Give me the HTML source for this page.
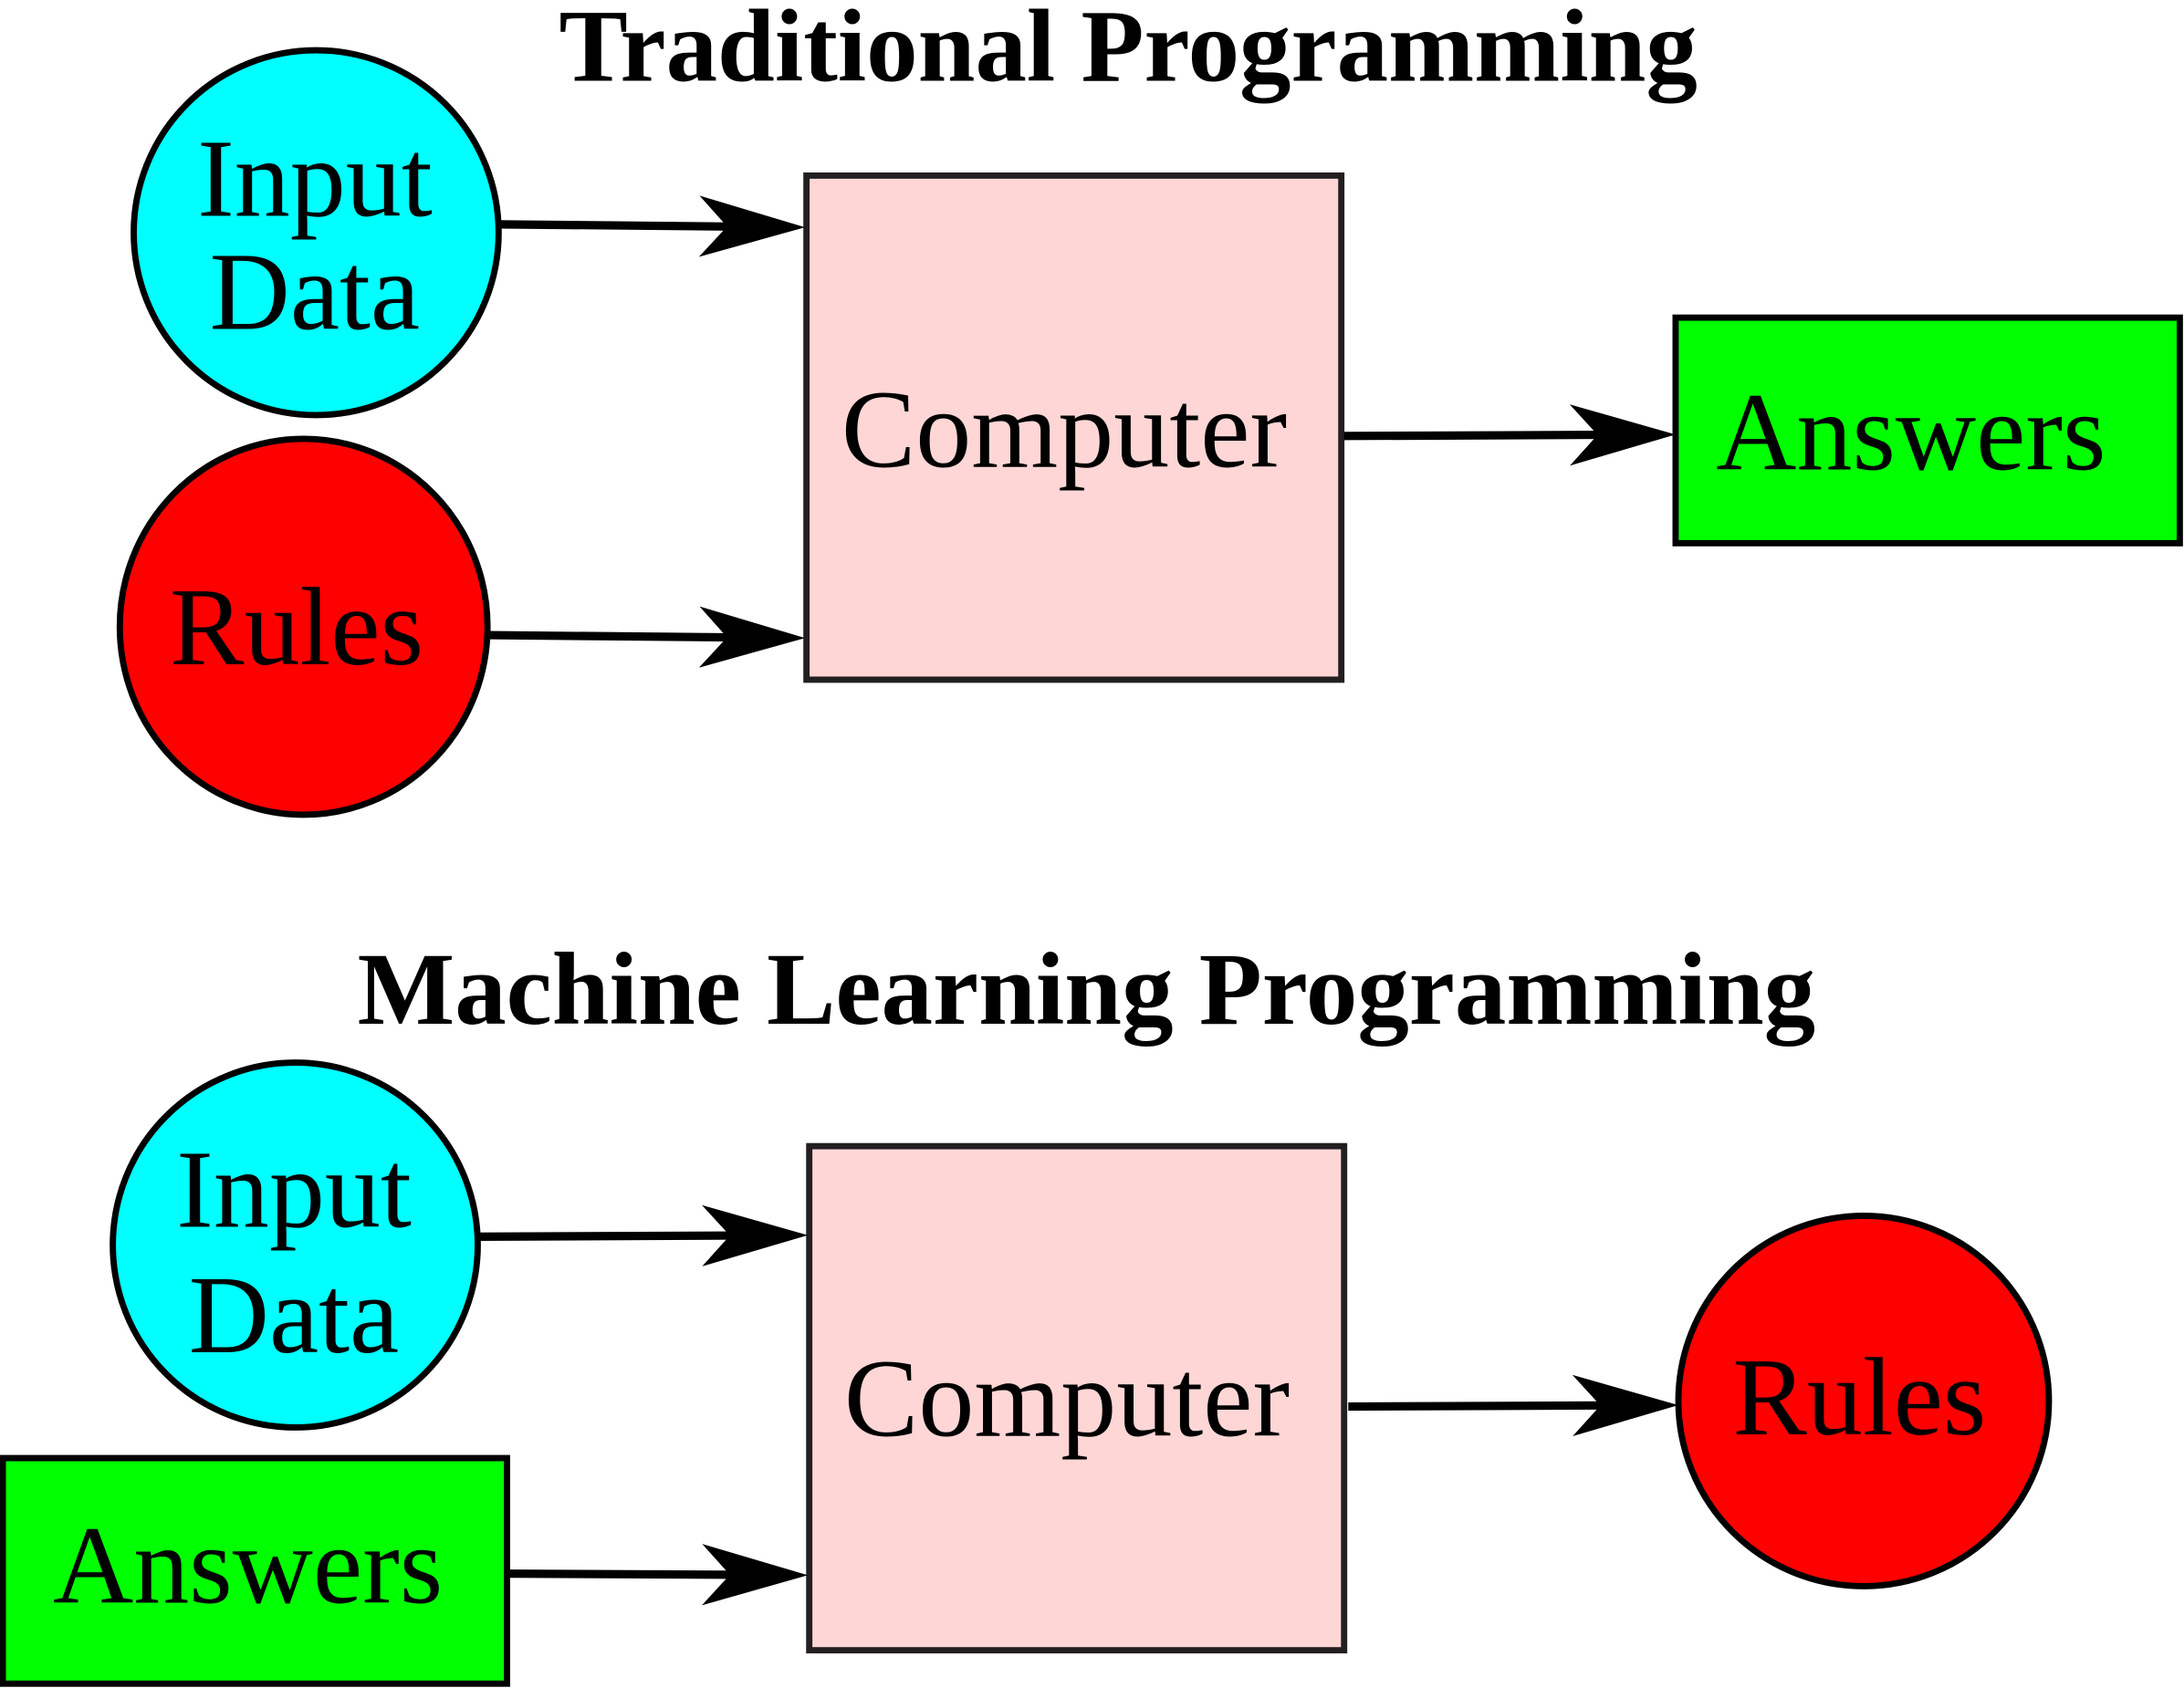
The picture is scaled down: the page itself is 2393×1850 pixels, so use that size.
<!DOCTYPE html>
<html><head><meta charset="utf-8"><style>html,body{margin:0;padding:0;background:#fff}svg{display:block}</style></head>
<body>
<svg width="2393" height="1850" viewBox="0 0 1568 1212" xmlns="http://www.w3.org/2000/svg" font-family="Liberation Serif, serif">
<defs>
<marker id="a" markerUnits="userSpaceOnUse" markerWidth="80" markerHeight="50" refX="64" refY="22" orient="auto">
<path d="M76,22 L0,0 L20,22 L0,44 Z" fill="#000"/>
</marker>
</defs>
<text x="810" y="58" font-size="74" font-weight="bold" text-anchor="middle">Traditional Programming</text>
<text x="780" y="735" font-size="74" font-weight="bold" text-anchor="middle">Machine Learning Programming</text>
<g stroke="#000" stroke-width="4.5">
<circle cx="227" cy="167" r="131" fill="#00ffff"/>
<ellipse cx="218" cy="450" rx="132" ry="135" fill="#ff0000"/>
<rect x="579" y="126" width="384" height="362" fill="#ffd6d6" stroke="#231f20"/>
<rect x="1203" y="228" width="362" height="162" fill="#00ff00"/>
<circle cx="212" cy="894" r="131" fill="#00ffff"/>
<rect x="2" y="1047" width="362" height="162" fill="#00ff00"/>
<rect x="581" y="823" width="384" height="362" fill="#ffd6d6" stroke="#231f20"/>
<circle cx="1338" cy="1006" r="133" fill="#ff0000"/>
</g>
<g stroke="#000" stroke-width="6" fill="none" marker-end="url(#a)">
<line x1="357" y1="161" x2="566" y2="163"/>
<line x1="350" y1="456" x2="566" y2="458"/>
<line x1="965" y1="313" x2="1191" y2="312"/>
<line x1="342" y1="888" x2="568" y2="887"/>
<line x1="366" y1="1130" x2="568" y2="1131"/>
<line x1="968" y1="1010" x2="1193" y2="1009"/>
</g>
<g font-size="80" text-anchor="middle">
<text x="226" y="155">Input</text>
<text x="226" y="236">Data</text>
<text x="213" y="477">Rules</text>
<text x="764" y="335">Computer</text>
<text x="1372" y="337">Answers</text>
<text x="211" y="881">Input</text>
<text x="211" y="971">Data</text>
<text x="178" y="1151">Answers</text>
<text x="766" y="1031">Computer</text>
<text x="1335" y="1030">Rules</text>
</g>
</svg>
</body></html>
